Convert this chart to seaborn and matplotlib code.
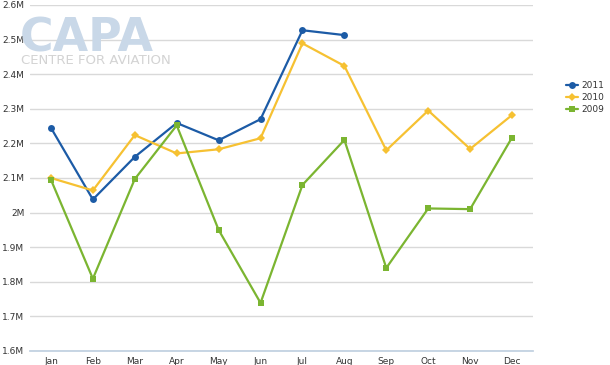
import pandas as pd
import matplotlib
matplotlib.use("Agg")
import matplotlib.pyplot as plt
import seaborn as sns

# --- Data ---
months = ["Jan", "Feb", "Mar", "Apr", "May", "Jun",
          "Jul", "Aug", "Sep", "Oct", "Nov", "Dec"]
pax_2011 = [2.245, 2.038, 2.161, 2.259, 2.209, 2.270, 2.527, 2.513]
pax_2010 = [2.100, 2.064, 2.224, 2.171, 2.183, 2.215,
            2.489, 2.424, 2.180, 2.295, 2.184, 2.282]
pax_2009 = [2.095, 1.809, 2.097, 2.252, 1.950, 1.739,
            2.080, 2.210, 1.840, 2.012, 2.010, 2.217]
series_names = ["2011", "2010", "2009"]
tick_values = [1.6, 1.7, 1.8, 1.9, 2.0, 2.1, 2.2, 2.3, 2.4, 2.5, 2.6]

COLORS = {"2011": "#1c5ba6", "2010": "#f6c132", "2009": "#7bb531"}
MARKERS = {"2011": "o", "2010": "D", "2009": "s"}
MSIZES = {"2011": 5, "2010": 4, "2009": 4}

rows = []
for name, vals in zip(series_names, [pax_2011, pax_2010, pax_2009]):
    for i, v in enumerate(vals):
        rows.append({"month": i, "value": v * 1e6, "year": name})
df = pd.DataFrame(rows)

sns.set_theme(style="white")
fig = plt.figure(figsize=(6.1, 3.65), dpi=100)
ax = fig.add_axes([30 / 610, 14 / 365, 503 / 610, 346 / 365])

# watermark
fig.text(20 / 610, 1 - 51 / 365, "CAPA", fontsize=33, fontweight="bold",
         color="#c9d8e8", family="DejaVu Sans", zorder=0)
fig.text(21 / 610, 1 - 64 / 365, "CENTRE FOR AVIATION", fontsize=9.5,
         color="#d3d3d3", family="DejaVu Sans", zorder=0)

for name in series_names:
    sub = df[df["year"] == name]
    sns.lineplot(data=sub, x="month", y="value", ax=ax, color=COLORS[name],
                 marker=MARKERS[name], markersize=MSIZES[name],
                 markeredgewidth=0, linewidth=1.6, label=name, zorder=3)

ax.set_xlim(-0.5, 11.5)
ax.set_ylim(1.6e6, 2.6e6)
ax.set_yticks([v * 1e6 for v in tick_values])
ax.set_yticklabels([f"{v:g}M" for v in tick_values])
ax.set_xticks(range(12))
ax.set_xticklabels(months)
ax.set_xticks([i - 0.5 for i in range(13)], minor=True)
ax.tick_params(axis="x", which="major", length=0, labelsize=6.5, colors="#333333", pad=4)
ax.tick_params(axis="x", which="minor", length=4, color="#c0d0e0", width=1)
ax.tick_params(axis="y", length=0, labelsize=6.5, colors="#333333", pad=4)
ax.set_xlabel("")
ax.set_ylabel("")
ax.grid(axis="y", color="#d9d9d9", linewidth=1)
ax.set_axisbelow(True)
ax.patch.set_alpha(0)
for s in ["top", "right", "left"]:
    ax.spines[s].set_visible(False)
ax.spines["bottom"].set_color("#c0d0e0")

ax.legend(loc="upper left", bbox_to_anchor=(566 / 610, 1 - 81 / 365),
          bbox_transform=fig.transFigure, frameon=False, fontsize=6.5,
          handlelength=1.3, handletextpad=0.4, labelspacing=0.35,
          borderaxespad=0, borderpad=0, labelcolor="#333333")

fig.savefig("out.png", dpi=100)
